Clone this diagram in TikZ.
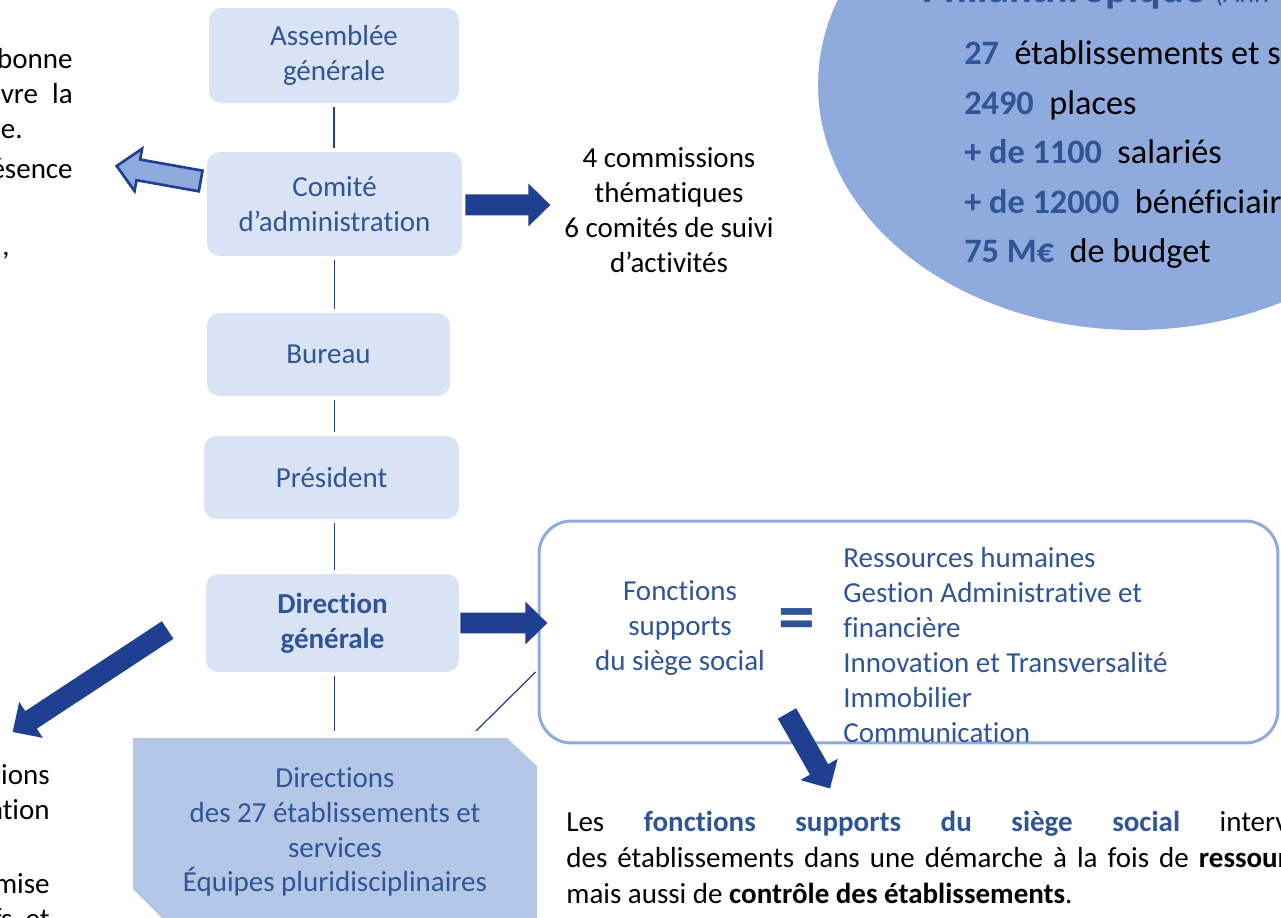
\documentclass[tikz,border=0pt]{standalone}
\usepackage{fontspec}
\setmainfont{Carlito}[Ligatures={NoCommon}]
\usepackage{tikz}
\usetikzlibrary{calc}
\usetikzlibrary{positioning}
\usetikzlibrary{shapes.geometric}
\definecolor{orgfill}{RGB}{218,227,243}
\definecolor{dirfill}{RGB}{180,199,231}
\definecolor{ovalfill}{RGB}{143,170,220}
\definecolor{orgtext}{RGB}{47,85,151}
\definecolor{arrowblue}{RGB}{31,64,145}
\newcommand{\orgfont}{\fontsize{16.5}{19.85}\selectfont}
\newcommand{\statfont}{\fontsize{19.5}{23}\selectfont}
\newcommand{\statnum}[1]{\textcolor{orgtext}{\textbf{#1}}}
\tikzstyle{orgbox} = [fill=orgfill, rounded corners=7pt, text=orgtext, align=center, font=\orgfont, inner sep=0pt]
\tikzstyle{plaintext} = [inner sep=0pt, font=\orgfont, align=center]
\tikzstyle{sidetext} = [inner sep=0pt, font=\orgfont, anchor=base east]
\tikzstyle{stat} = [inner sep=0pt, font=\statfont, anchor=base west]
\tikzstyle{link} = [draw=arrowblue, line width=0.7pt, shorten <=0.08cm, shorten >=0.08cm]
\tikzstyle{bluearrow} = [fill=arrowblue]
\tikzstyle{hollowarrow} = [fill=ovalfill, draw=arrowblue, line width=1.5pt, line join=miter]
% thick block arrow from #2 (tail) to #3 (tip)
\newcommand{\fatarrow}[3][bluearrow]{%
    \coordinate (fat_head) at ($(#3)!0.44cm!(#2)$);
    \path[#1] ($(#2)!0.21cm!90:(#3)$) -- ($(fat_head)!0.21cm!90:(#3)$)
        -- ($(fat_head)!0.43cm!90:(#3)$) -- (#3)
        -- ($(fat_head)!0.43cm!-90:(#3)$) -- ($(fat_head)!0.21cm!-90:(#3)$)
        -- ($(#2)!0.21cm!-90:(#3)$) -- cycle;}

\begin{document}
\begin{tikzpicture}[x=0.02cm, y=-0.02cm]
    \useasboundingbox (0,0) rectangle (1281,918);
    \clip (0,0) rectangle (1281,918);

    % key figures
    \node[ellipse, fill=ovalfill, minimum width=12.68cm, minimum height=9.8cm, inner sep=0pt] (oval) at (1135,85) {};
    \node[anchor=base west, inner sep=0pt, text=orgtext, font=\fontsize{24}{28}\selectfont\bfseries] (oval_title) at (922,3)
{Philanthropique {\mdseries\fontsize{16}{20}\selectfont (Ann}};
    \node[stat] (stat_etab) at (964,65) {\statnum{27}\ \ établissements et services};
    \node[stat] (stat_places) at ($(stat_etab.base west)+(0,49.5)$) {\statnum{2490}\ \ places};
    \node[stat] (stat_staff) at ($(stat_places.base west)+(0,49.5)$) {\statnum{+ de 1100}\ \ salariés};
    \node[stat] (stat_people) at ($(stat_staff.base west)+(0,49.5)$) {\statnum{+ de 12000}\ \ bénéficiaires};
    \node[stat] (stat_budget) at ($(stat_people.base west)+(0,49.5)$) {\statnum{75 M€}\ \ de budget};

    % governance chain
    \node[orgbox, minimum width=5cm, minimum height=1.9cm] (assemblee) at (334,55.5) {Assemblée\\générale};
    \node[orgbox, minimum width=5.1cm, minimum height=2.08cm] (comite) at ($(assemblee)+(0.5,148.5)$)
{Comité\\d’administration};
    \node[orgbox, minimum width=4.86cm, minimum height=1.66cm] (bureau) at ($(comite)+(-6,150.5)$) {Bureau};
    \node[orgbox, minimum width=5.1cm, minimum height=1.66cm] (president) at ($(bureau)+(3,123)$) {Président};
    \node[orgbox, minimum width=5.06cm, minimum height=1.96cm, font=\orgfont\bfseries] (direction) at
($(president)+(1,145.5)$) {Direction\\générale};

    \fill[dirfill] (133,738) -- (507,738) -- (537,766) -- (537,922) -- (166,922) -- (133,889) -- cycle;
    \node[plaintext, text=orgtext] (directions) at (335,832)
{Directions\\des 27 établissements et\\services\\Équipes pluridisciplinaires};
    \coordinate (directions_top) at (335,738);

    \draw[link] (assemblee.south) -- (assemblee.south |- comite.north);
    \draw[link] (comite.south) -- (comite.south |- bureau.north);
    \draw[link] (bureau.south -| comite.south) -- (comite.south |- president.north);
    \draw[link] (president.south -| comite.south) -- (comite.south |- direction.north);
    \draw[link, shorten >=0.14cm] (direction.south -| comite.south) -- (comite.south |- directions_top);

    % support functions
    \node[draw=ovalfill, line width=1.7pt, rounded corners=0.65cm, fill=white, minimum width=14.78cm,
minimum height=4.44cm] (supports) at (908.5,632) {};
    \node[plaintext, text=orgtext] (fonctions) at (680,628) {Fonctions\\supports\\du siège social};
    \node[inner sep=0pt, text=orgtext, font=\fontsize{42}{42}\selectfont\bfseries] (equals) at (797,625) {=};
    \node[plaintext, text=orgtext, align=left, anchor=west] (supportlist) at (843,645)
{Ressources humaines\\Gestion Administrative et\\financière\\Innovation et Transversalité\\Immobilier\\Communication};
    \coordinate (dir_corner) at ($(directions_top)+(141,-7)$);
    \coordinate (supports_link) at ($(supports.west)+(-2,40)$);
    \draw[link, shorten <=0pt, shorten >=0pt] (dir_corner) -- (supports_link);

    \node[plaintext] (commissions) at (669,210) {4 commissions\\thématiques\\6 comités de suivi\\d’activités};

    % cut-off side texts
    \node[sidetext] (left_a) at (73,69) {bonne};
    \node[sidetext] (left_b) at (73,104) {uvre\hspace{8pt}la};
    \node[sidetext] (left_c) at (23,139) {e.};
    \node[sidetext] (left_d) at (73,179) {ésence};
    \node[sidetext] (left_e) at (10,256) {,};
    \node[sidetext] (left_f) at (50,784) {tions};
    \node[sidetext] (left_g) at (50,819) {ntion};
    \node[sidetext] (left_h) at (50,893) {mise};
    \node[sidetext] (left_i) at (50,928) {fs\ \ et};

    \node[inner sep=0pt, font=\orgfont, anchor=base west] (note_a) at (566,831)
{\makebox[16.26cm][s]{Les \textcolor{orgtext}{\textbf{fonctions supports du siège social}} interviennent}};
    \node[inner sep=0pt, font=\orgfont, anchor=base west] (note_b) at ($(note_a.base west)+(0,36)$)
{\makebox[17.7cm][s]{des établissements dans une démarche à la fois de \textbf{ressources} humaines}};
    \node[inner sep=0pt, font=\orgfont, anchor=base west] (note_c) at ($(note_b.base west)+(0,36)$)
{mais aussi de \textbf{contrôle des établissements}.};

    % arrows
    \coordinate (comite_left) at ($(comite.west)+(-6,-23)$);
    \coordinate (comite_note) at ($(comite.west)+(-90,-38)$);
    \fatarrow[hollowarrow]{comite_left}{comite_note}
    \coordinate (comite_right) at ($(comite.east)+(3,1)$);
    \coordinate (commissions_tip) at ($(comite_right)+(85,0)$);
    \fatarrow{comite_right}{commissions_tip}
    \coordinate (direction_right) at ($(direction.east)+(1,0)$);
    \coordinate (supports_tip) at ($(direction_right)+(87,0)$);
    \fatarrow{direction_right}{supports_tip}
    \coordinate (direction_left) at ($(direction.west)+(-38,7)$);
    \coordinate (direction_note) at ($(direction_left)+(-155,102)$);
    \fatarrow{direction_left}{direction_note}
    \coordinate (supports_down) at ($(supports.south)+(-121.5,-31)$);
    \coordinate (note_tip) at ($(supports_down)+(43,75)$);
    \fatarrow{supports_down}{note_tip}
\end{tikzpicture}
\end{document}
